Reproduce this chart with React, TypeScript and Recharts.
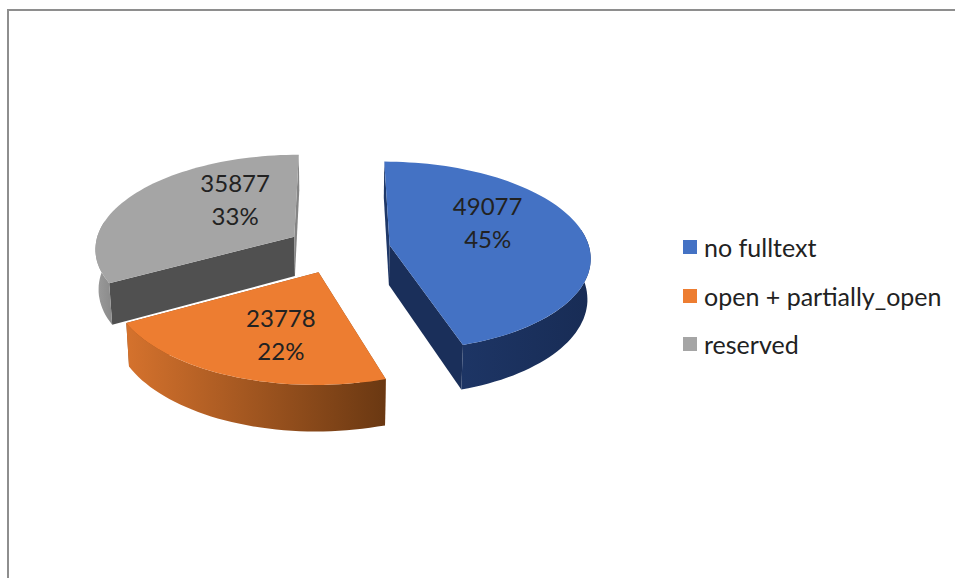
import { Legend, Pie, PieChart } from "recharts";

const categories = ["no fulltext", "open + partially_open", "reserved"];
const counts = [49077, 23778, 35877];
const topColors = ["#4472C4", "#ED7D31", "#A5A5A5"];
const wallColors = [
  ["#1D3565", "#182C55"],
  ["#D5722D", "#6A3812"],
  ["#9C9C9C", "#8A8A8A"],
];
// side faces along the first and last radius of each slice
const firstCutColors = ["#1F3868", "#8A4A1C", "#505050"];
const lastCutColors = ["#1A2F5A", "#8A4A1C", "#858585"];
const labelNudges = [
  [1, -15],
  [4, 13.5],
  [22, -14],
];

const rows = categories.map((name, i) => ({ name, value: counts[i], fill: topColors[i] }));

// fake 3D: the pie is laid on a tilted plane and seen through a weak perspective
const CX = 338.4;
const CY = 249;
const RADIUS = 200;
const EXPLODE = 52;
const TILT = 0.47;
const PERSPECTIVE = 0.114;
const THICKNESS = 40;
const BOTTOM_SHRINK = 0.987;
const RAD = Math.PI / 180;

type Pt = { x: number; y: number; s: number };

function project(theta: number, r: number, mid: number): Pt {
  const wx = EXPLODE * Math.sin(mid * RAD) + r * Math.sin(theta * RAD);
  const wz = EXPLODE * Math.cos(mid * RAD) + r * Math.cos(theta * RAD);
  const s = 1 / (1 + (PERSPECTIVE * wz) / RADIUS);
  return { x: CX + wx * s, y: CY - TILT * wz * s, s };
}

function lower(p: Pt): Pt {
  return { x: CX + (p.x - CX) * BOTTOM_SHRINK, y: p.y + THICKNESS * p.s, s: p.s };
}

function toPath(points: Pt[]) {
  return "M" + points.map((p) => `${p.x.toFixed(1)},${p.y.toFixed(1)}`).join("L") + "Z";
}

function arc(from: number, to: number, r: number, mid: number) {
  const pts: Pt[] = [];
  const steps = Math.max(2, Math.ceil(Math.abs(to - from) / 2));
  for (let i = 0; i <= steps; i++) {
    pts.push(project(from + ((to - from) * i) / steps, r, mid));
  }
  return pts;
}

function Slice3D(props: any) {
  const { startAngle, endAngle, outerRadius, index } = props;
  const from = 90 - startAngle;
  const to = 90 - endAngle;
  const mid = (from + to) / 2;
  const apex = project(0, 0, mid);
  const first = project(from, outerRadius, mid);
  const last = project(to, outerRadius, mid);
  const rim = arc(from, to, outerRadius, mid);

  const wallFrom = Math.max(from, 80);
  const wallTo = Math.min(to, 280);
  const wallRim = wallTo > wallFrom ? arc(wallFrom, wallTo, outerRadius, mid) : [];
  const wall = [...wallRim, ...wallRim.map(lower).reverse()];
  const gradientId = `slice-wall-${index}`;

  return (
    <g>
      <defs>
        <linearGradient id={gradientId} x1="0" y1="0" x2="1" y2="0">
          <stop offset="0" stopColor={wallColors[index][0]} />
          <stop offset="1" stopColor={wallColors[index][1]} />
        </linearGradient>
      </defs>
      <path d={toPath([apex, first, lower(first), lower(apex)])} fill={firstCutColors[index]} />
      <path d={toPath([apex, last, lower(last), lower(apex)])} fill={lastCutColors[index]} />
      {wall.length > 0 && <path d={toPath(wall)} fill={`url(#${gradientId})`} />}
      <path d={toPath([apex, ...rim])} fill={props.fill} />
    </g>
  );
}

function renderLabel(props: any) {
  const { midAngle, percent, value, index } = props;
  const mid = 90 - midAngle;
  const p = project(mid, 100, mid);
  const x = p.x + labelNudges[index][0];
  const y = p.y + labelNudges[index][1];
  return (
    <text x={x} textAnchor="middle" fontFamily="Lato" fontSize={24} fill="#222222">
      <tspan x={x} y={y - 8}>{value}</tspan>
      <tspan x={x} y={y + 25}>{`${Math.round(percent * 100)}%`}</tspan>
    </text>
  );
}

function LegendBlock({ payload }: any) {
  return (
    <div style={{ fontFamily: "Lato", fontSize: 25, color: "#222222" }}>
      {(payload ?? []).map((item: any) => (
        <div key={item.value} style={{ display: "flex", alignItems: "center", height: 48.5 }}>
          <span style={{ width: 14, height: 14, background: item.color, marginRight: 7 }} />
          <span>{item.value}</span>
        </div>
      ))}
    </div>
  );
}

export default function App() {
  return (
    <div style={{ position: "absolute", left: 0, top: 0, width: 955, height: 578, background: "#ffffff" }}>
      <div
        style={{
          position: "absolute",
          left: 7,
          top: 9,
          right: 0,
          bottom: 0,
          borderTop: "2px solid #8E8E8E",
          borderLeft: "2px solid #8E8E8E",
        }}
      />
      <PieChart width={955} height={578} margin={{ top: 0, right: 0, bottom: 0, left: 0 }}>
        <Pie
          data={rows}
          dataKey="value"
          nameKey="name"
          cx={CX}
          cy={CY}
          outerRadius={RADIUS}
          startAngle={90}
          endAngle={-270}
          stroke="none"
          shape={Slice3D}
          label={renderLabel}
          labelLine={false}
          isAnimationActive={false}
        />
        <Legend
          layout="vertical"
          align="right"
          verticalAlign="middle"
          content={LegendBlock}
          wrapperStyle={{ left: 683, top: 223, width: 270 }}
        />
      </PieChart>
    </div>
  );
}
